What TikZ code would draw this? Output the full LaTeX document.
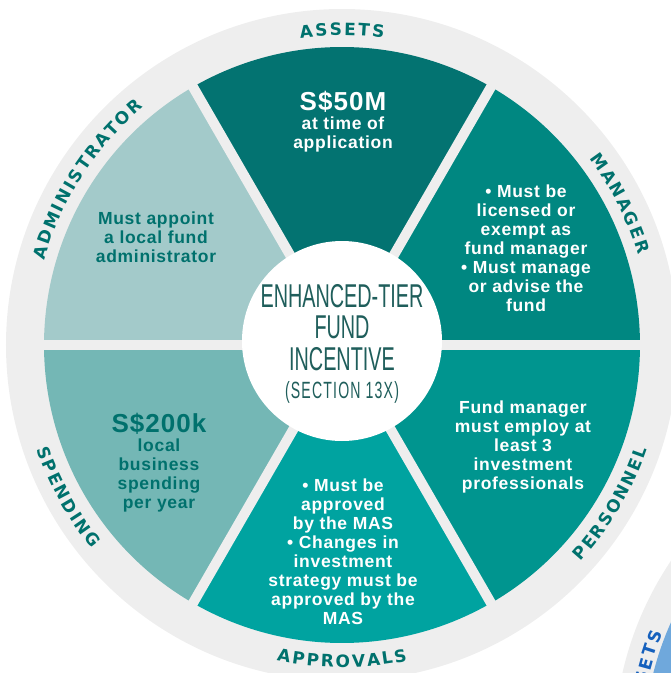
\documentclass[tikz,border=0pt]{standalone}
\usepackage{fontspec}
\setmainfont{Liberation Sans}[LetterSpace=4]
\newfontfamily\condfont{Liberation Sans}[FakeStretch=0.6]
\newfontfamily\ringfamily{DejaVu Sans}[WordSpace=0.35]
\usetikzlibrary{decorations.text}
\definecolor{ringgray}{HTML}{EEEEEE}
\definecolor{assetsc}{HTML}{037371}
\definecolor{managerc}{HTML}{008781}
\definecolor{personnelc}{HTML}{00958F}
\definecolor{approvalsc}{HTML}{00A3A0}
\definecolor{spendingc}{HTML}{74B7B5}
\definecolor{adminc}{HTML}{A3CACA}
\definecolor{labelteal}{HTML}{00716D}
\definecolor{titleteal}{HTML}{1F5E5B}
\definecolor{nextblue}{HTML}{6FA8DC}
\definecolor{nextlabel}{HTML}{1560BD}
\newcommand\ringfont{\ringfamily\bfseries\fontsize{17}{17}\selectfont}
\newcommand\bigfig{\fontsize{26}{26}\selectfont}
\newcommand\toplabel[3]{\path[decorate, decoration={text along path, text align=center,
    text={|\ringfont\color{#2}|#3}}] ({#1+45}:309.5pt) arc[start angle={#1+45}, end angle={#1-45}, radius=309.5pt];}
\newcommand\bottomlabel[3]{\path[decorate, decoration={text along path, text align=center,
    text={|\ringfont\color{#2}|#3}}] ({#1-45}:322.5pt) arc[start angle={#1-45}, end angle={#1+45}, radius=322.5pt];}
\tikzset{
    sectortext/.style={align=center, text=white, inner sep=0pt, font=\bfseries\fontsize{17.5}{19}\selectfont},
    lighttext/.style={sectortext, text=labelteal},
    titletext/.style={align=center, text=titleteal, inner sep=0pt, font=\condfont\fontsize{33}{31.5}\selectfont},
    gapline/.style={ringgray, line width=10pt}
}
\begin{document}
\begin{tikzpicture}[x=1pt, y=1pt]
    \useasboundingbox (-342,-328) rectangle (329,345);
    \clip (-342,-328) rectangle (329,345);
    \fill[ringgray] (0,0) circle[radius=336pt];
    \foreach \a/\c in {60/assetsc, 0/managerc, -60/personnelc, -120/approvalsc, 180/spendingc, 120/adminc}
      \fill[\c] (0,0) -- (\a:298pt) arc[start angle=\a, end angle=\a+60, radius=298pt] -- cycle;
    \foreach \a in {0,60,120}
      \draw[gapline] (\a:310pt) -- (\a+180:310pt);
    \fill[white] (0,4) circle[radius=100pt];

    % ring labels
    \toplabel{90}{labelteal}{A S S E T S}
    \toplabel{27}{labelteal}{M A N A G E R}
    \toplabel{147}{labelteal}{A D M I N I S T R A T O R}
    \bottomlabel{-90}{labelteal}{A P P R O V A L S}
    \bottomlabel{-30.6}{labelteal}{P E R S O N N E L}
    \bottomlabel{209}{labelteal}{S P E N D I N G}

    \node[titletext] (title) at (0,1)
      {ENHANCED-TIER\\FUND\\INCENTIVE\\[-3pt]
      {\fontsize{23.5}{28}\selectfont\addfontfeature{LetterSpace=5}(SECTION 13X)}};

    \node[sectortext] (assets) at (1,223)
      {{\bigfig S\$50M}\\at time of\\application};
    \node[sectortext] (manager) at (184,97)
      {• Must be\\licensed or\\exempt as\\fund manager\\• Must manage\\or advise the\\fund};
    \node[sectortext] (personnel) at (181,-102)
      {Fund manager\\must employ at\\least 3\\investment\\professionals};
    \node[sectortext] (approvals) at (1,-207)
      {• Must be\\approved\\by the MAS\\• Changes in\\investment\\strategy must be\\approved by the\\MAS};
    \node[lighttext] (spending) at (-183,-118)
      {{\bigfig S\$200k}\\local\\business\\spending\\per year};
    \node[lighttext] (admin) at (-186,108)
      {Must appoint\\a local fund\\administrator};

    % next wheel, cut off at the corner
    \begin{scope}[shift={(608,-403)}]
      \fill[ringgray] (0,0) circle[radius=336pt];
      \fill[nextblue] (0,0) -- (120:306pt) arc[start angle=120, end angle=180, radius=306pt] -- cycle;
      \toplabel{166}{nextlabel}{A S S E T S}
    \end{scope}
\end{tikzpicture}
\end{document}
